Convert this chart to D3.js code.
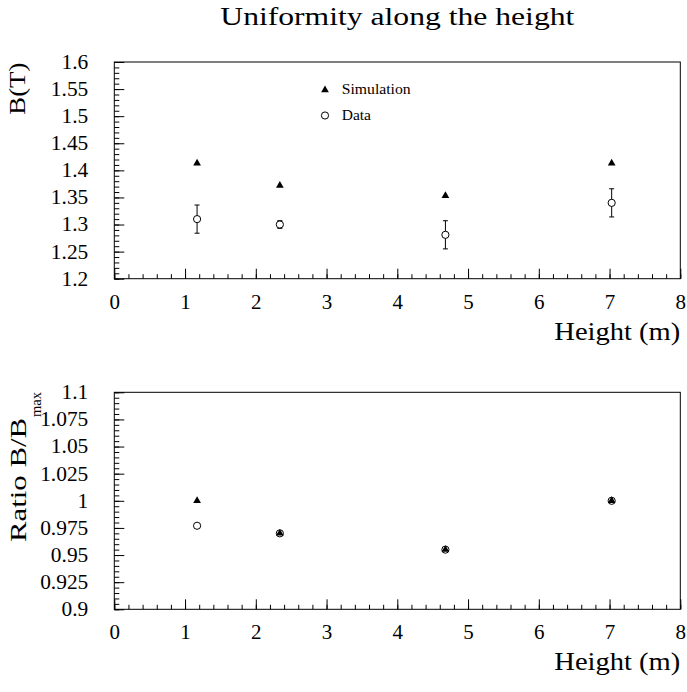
<!DOCTYPE html>
<html>
<head>
<meta charset="utf-8">
<script src="https://cdn.jsdelivr.net/npm/d3@7"></script>
<style>
body { margin: 0; background: white; }
text { font-family: "Liberation Serif", "Times New Roman", serif; fill: black; }
</style>
</head>
<body>
<script>
var heights = [1.17, 2.34, 4.68, 7.03];
var simB = [1.413, 1.372, 1.353, 1.413];
var dataB = [1.31, 1.30, 1.281, 1.34];
var dataErr = [0.026, 0.007, 0.026, 0.026];
var simRatio = [1.0, 0.970, 0.955, 1.0];
var dataRatio = [0.977, 0.970, 0.955, 1.0];

var xTicks = [0, 1, 2, 3, 4, 5, 6, 7, 8];
var yTicksTop = [1.2, 1.25, 1.3, 1.35, 1.4, 1.45, 1.5, 1.55, 1.6];
var yTicksBottom = [0.9, 0.925, 0.95, 0.975, 1, 1.025, 1.05, 1.075, 1.1];

var width = 687;
var height = 692;

var svg = d3.select("body")
  .append("svg")
  .attr("width", width)
  .attr("height", height);

var left = 114.3, right = 680.3;
var x = d3.scaleLinear().domain([0, 8]).range([left, right]);
var yTop = d3.scaleLinear().domain([1.2, 1.6]).range([278.7, 62]);
var yBot = d3.scaleLinear().domain([0.9, 1.1]).range([609.3, 392.3]);

// stretch text along its own direction
var stretch = function(sel, f) {
  sel.each(function() {
    var len = this.getComputedTextLength();
    d3.select(this).attr("textLength", len * f).attr("lengthAdjust", "spacingAndGlyphs");
  });
};

var triangle = d3.symbol().type(d3.symbolTriangle).size(26);

var drawPanel = function(y, yTicks, sim, dat, err) {
  var y0 = y.range()[0], y1 = y.range()[1];
  var g = svg.append("g");

  // minor ticks
  g.append("g").attr("transform", "translate(0," + y0 + ")")
    .call(d3.axisBottom(x).ticks(40).tickSize(-4.5).tickFormat(""))
    .call(s => s.select(".domain").remove());
  g.append("g").attr("transform", "translate(" + left + ",0)")
    .call(d3.axisLeft(y).ticks(40).tickSize(-5).tickFormat(""))
    .call(s => s.select(".domain").remove());

  // major ticks + labels
  var xa = g.append("g").attr("transform", "translate(0," + y0 + ")")
    .call(d3.axisBottom(x).tickValues(xTicks).tickSize(-10).tickPadding(16).tickFormat(d => d))
    .call(s => s.select(".domain").remove());
  xa.selectAll("text").attr("font-size", 20).attr("font-family", "Liberation Serif").call(stretch, 1.05);

  var ya = g.append("g").attr("transform", "translate(" + left + ",0)")
    .call(d3.axisLeft(y).tickValues(yTicks).tickSize(-10).tickPadding(26).tickFormat(d => d))
    .call(s => s.select(".domain").remove());
  ya.selectAll("text").attr("font-size", 20).attr("font-family", "Liberation Serif").call(stretch, 1.07);

  g.selectAll(".tick line").attr("stroke", "black");

  g.append("rect")
    .attr("x", left).attr("y", y1)
    .attr("width", right - left).attr("height", y0 - y1)
    .attr("fill", "none").attr("stroke", "black").attr("stroke-width", 1);

  // error bars
  if (err) {
    for (var i = 0; i < heights.length; i++) {
      var cx = x(heights[i]);
      var lo = y(dat[i] - err[i]), hi = y(dat[i] + err[i]);
      g.append("line").attr("x1", cx).attr("x2", cx).attr("y1", lo).attr("y2", hi).attr("stroke", "black");
      g.append("line").attr("x1", cx - 2.5).attr("x2", cx + 2.5).attr("y1", lo).attr("y2", lo).attr("stroke", "black");
      g.append("line").attr("x1", cx - 2.5).attr("x2", cx + 2.5).attr("y1", hi).attr("y2", hi).attr("stroke", "black");
    }
  }

  g.selectAll("circle.data")
    .data(dat)
    .enter()
    .append("circle")
    .attr("cx", (d, i) => x(heights[i]))
    .attr("cy", d => y(d))
    .attr("r", 3.6)
    .attr("fill", "white")
    .attr("stroke", "black")
    .attr("stroke-width", 1);

  g.selectAll("path.sim")
    .data(sim)
    .enter()
    .append("path")
    .attr("d", triangle)
    .attr("transform", (d, i) => "translate(" + x(heights[i]) + "," + y(d) + ")")
    .attr("fill", "black");

  // x axis title
  svg.append("text")
    .attr("x", right).attr("y", y0 + 61)
    .attr("text-anchor", "end")
    .attr("font-size", 26)
    .attr("textLength", 126).attr("lengthAdjust", "spacingAndGlyphs")
    .text("Height (m)");
};

drawPanel(yTop, yTicksTop, simB, dataB, dataErr);
drawPanel(yBot, yTicksBottom, simRatio, dataRatio, null);

// title
svg.append("text")
  .attr("x", (left + right) / 2).attr("y", 24.5)
  .attr("text-anchor", "middle")
  .attr("font-size", 25)
  .attr("textLength", 354).attr("lengthAdjust", "spacingAndGlyphs")
  .text("Uniformity along the height");

// y axis titles
svg.append("text")
  .attr("transform", "translate(25,62.7) rotate(-90)")
  .attr("text-anchor", "end")
  .attr("font-size", 23)
  .attr("textLength", 52).attr("lengthAdjust", "spacingAndGlyphs")
  .text("B(T)");

svg.append("text")
  .attr("transform", "translate(26,418) rotate(-90)")
  .attr("text-anchor", "end")
  .attr("font-size", 23)
  .attr("textLength", 124).attr("lengthAdjust", "spacingAndGlyphs")
  .text("Ratio B/B");

svg.append("text")
  .attr("transform", "translate(41,392) rotate(-90)")
  .attr("text-anchor", "end")
  .attr("font-size", 15)
  .attr("textLength", 25).attr("lengthAdjust", "spacingAndGlyphs")
  .text("max");

// legend
svg.append("path").attr("d", triangle).attr("transform", "translate(325,90)").attr("fill", "black");
svg.append("circle").attr("cx", 325).attr("cy", 115.5).attr("r", 3.6)
  .attr("fill", "white").attr("stroke", "black");
svg.append("text").attr("x", 341.7).attr("y", 94).attr("font-size", 15.5)
  .attr("textLength", 69).attr("lengthAdjust", "spacingAndGlyphs").text("Simulation");
svg.append("text").attr("x", 341.7).attr("y", 120).attr("font-size", 15.5).text("Data");
</script>
</body>
</html>
